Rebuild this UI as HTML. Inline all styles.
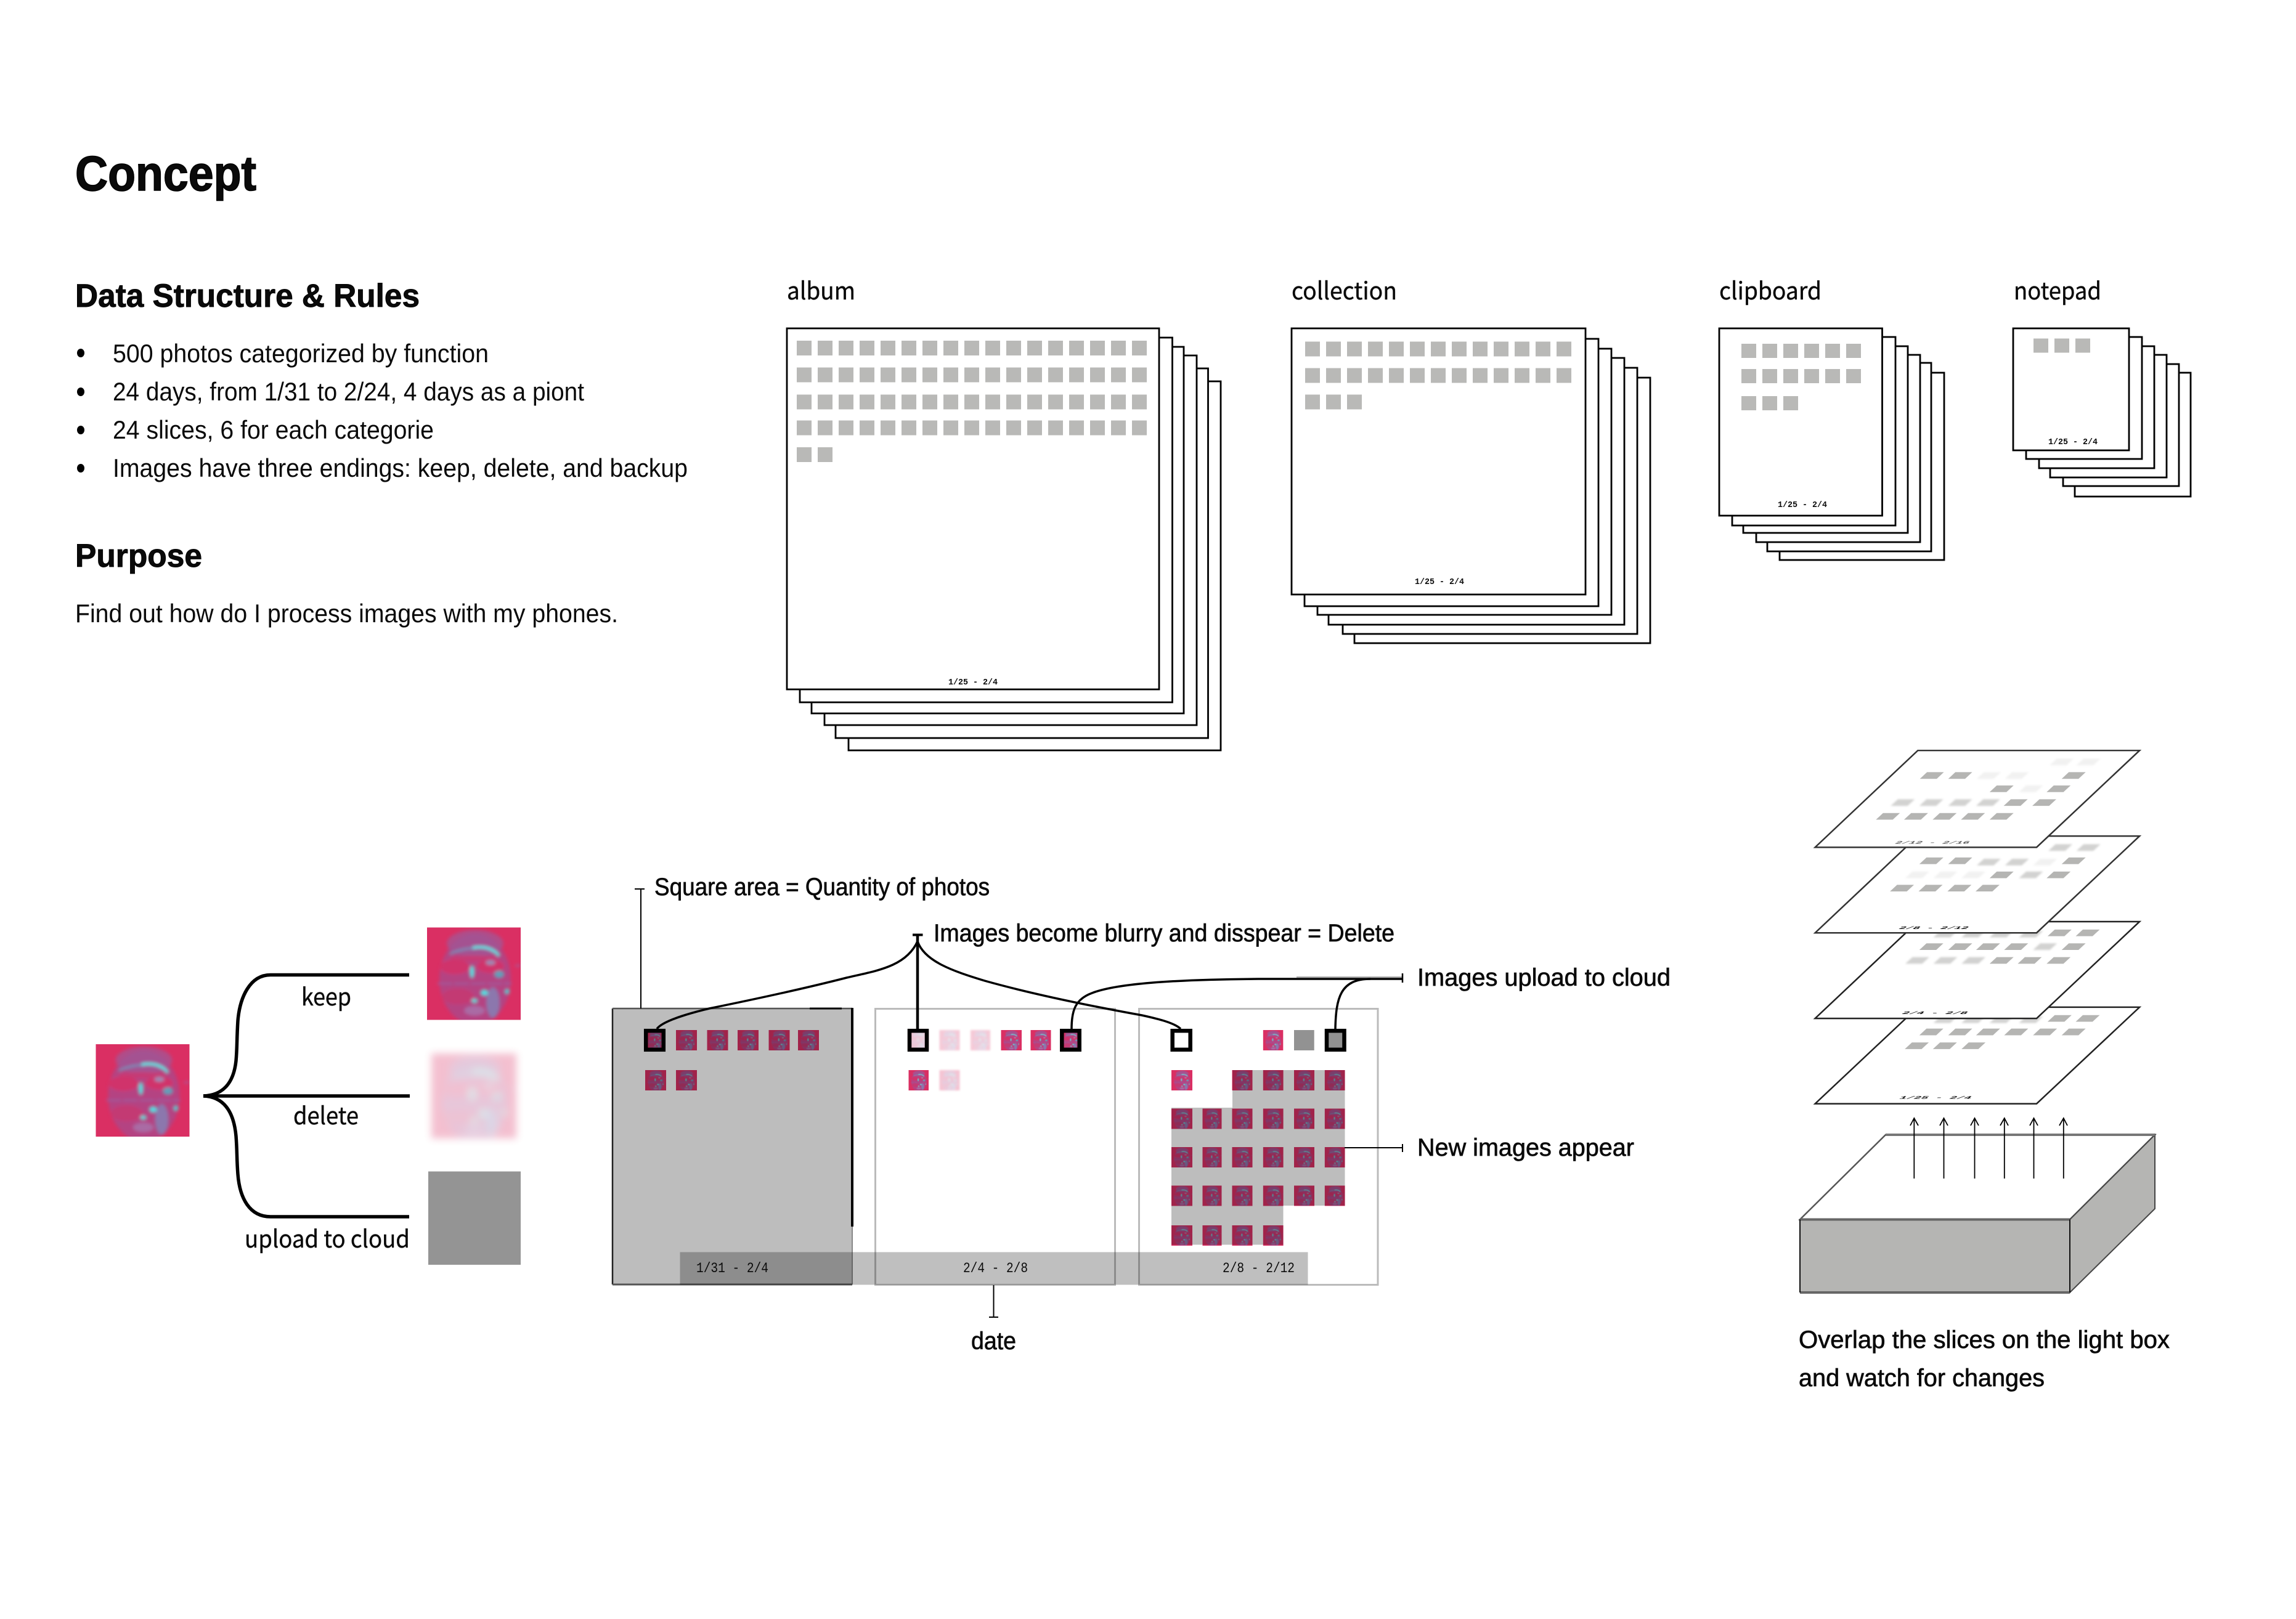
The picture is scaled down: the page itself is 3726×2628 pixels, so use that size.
<!DOCTYPE html>
<html><head><meta charset="utf-8"><title>Concept</title>
<style>
html,body{margin:0;padding:0;background:#fff}
svg{display:block}
text{fill:#0a0a0a}
.d{font-family:"Liberation Sans",sans-serif;font-size:42px}
.h{font-family:"Liberation Sans",sans-serif;font-weight:700;stroke:#000}
.m{font-family:"Liberation Sans",sans-serif;font-size:40px;stroke:#0a0a0a;stroke-width:.7px}
.k{font-family:"Noto Sans CJK SC","Liberation Sans",sans-serif;font-size:39px;stroke:#0a0a0a;stroke-width:.4px}
.t{font-family:"Liberation Mono",monospace;font-size:14px;font-weight:700}
.o{font-family:"Liberation Mono",monospace;font-size:23px}
.pl{font-family:"Liberation Mono",monospace;font-size:38px;font-weight:700}
.sh{fill:#fff;stroke:#000;stroke-width:2.8}
.bk{stroke:#000;fill:none}
.dm{mix-blend-mode:multiply}
</style></head>
<body>
<svg xmlns="http://www.w3.org/2000/svg" width="3726" height="2628" viewBox="0 0 3726 2628">
<defs>
<filter id="fb" x="-10%" y="-10%" width="120%" height="120%"><feGaussianBlur stdDeviation="2.6"/></filter>
<filter id="fd" x="-15%" y="-15%" width="130%" height="130%"><feGaussianBlur stdDeviation="6"/></filter>
<filter id="fs" x="-30%" y="-30%" width="160%" height="160%"><feGaussianBlur stdDeviation="1.5"/></filter>
<filter id="fq" x="-30%" y="-50%" width="160%" height="200%"><feGaussianBlur stdDeviation="4"/></filter>
<symbol id="f" viewBox="0 0 152 150" preserveAspectRatio="none">
<rect width="152" height="150" fill="#da2f63"/>
<svg x="0" y="0" width="152" height="150" viewBox="0 0 152 150" overflow="hidden">
<g filter="url(#fb)">
<ellipse cx="78" cy="84" rx="58" ry="74" fill="#96549a" opacity=".55"/>
<ellipse cx="78" cy="26" rx="46" ry="22" fill="#9e5a98" opacity=".7"/>
<ellipse cx="45" cy="64" rx="24" ry="12" fill="#d43068" opacity=".9"/>
<ellipse cx="103" cy="63" rx="22" ry="11" fill="#d43068" opacity=".9"/>
<ellipse cx="75" cy="50" rx="38" ry="5" fill="#cc3870" opacity=".8"/>
<ellipse cx="50" cy="112" rx="26" ry="13" fill="#c8386f" opacity=".8"/>
<path d="M37 43Q60 33 78 34" stroke="#6a96c0" stroke-width="3" fill="none"/>
<path d="M74 33Q102 28 117 46" stroke="#55e6e6" stroke-width="4.500" fill="none"/>
<ellipse cx="73" cy="72" rx="3.500" ry="10" fill="#55dfe0"/>
<path d="M17 91H137" stroke="#9a62a6" stroke-width="2.200" stroke-dasharray="24 3"/>
<ellipse cx="107" cy="122" rx="11" ry="25" fill="#8580b5" opacity=".85"/>
<ellipse cx="93" cy="106" rx="6" ry="5" fill="#52dbe0"/>
<ellipse cx="130" cy="104" rx="4" ry="4" fill="#52c9cf"/>
<ellipse cx="77" cy="119" rx="5" ry="3.500" fill="#60d8d8"/>
<ellipse cx="77" cy="135" rx="17" ry="8" fill="#a875ad" opacity=".8"/>
<ellipse cx="103" cy="57" rx="8" ry="4" fill="#8da0c8" opacity=".8"/>
<ellipse cx="117" cy="76" rx="8" ry="6" fill="#5aa8c0" opacity=".9"/>
<path d="M143 62H152" stroke="#9a66a8" stroke-width="2"/>
</g>
</svg>
</symbol>
<path id="q" d="M-47 13H19L47-13H-19Z" fill="#b5b5b3"/>
<g id="qp"><use href="#q" opacity=".6" filter="url(#fq)"/></g>
<g id="qv"><use href="#q" opacity=".18" filter="url(#fq)"/></g>
</defs>
<rect width="3726" height="2628" fill="#fff"/>

<!-- Left text -->
<text class="h" x="122" y="309" font-size="80" stroke-width="1.6" textLength="294" lengthAdjust="spacingAndGlyphs">Concept</text>
<text class="h" x="122" y="498" font-size="53" stroke-width=".9" textLength="559" lengthAdjust="spacingAndGlyphs">Data Structure &amp; Rules</text>
<ellipse cx="131" cy="573" rx="6" ry="7" fill="#000"/>
<ellipse cx="131" cy="636" rx="6" ry="7" fill="#000"/>
<ellipse cx="131" cy="698" rx="6" ry="7" fill="#000"/>
<ellipse cx="131" cy="760" rx="6" ry="7" fill="#000"/>
<text class="d" x="183" y="588" textLength="610" lengthAdjust="spacingAndGlyphs">500 photos categorized by function</text>
<text class="d" x="183" y="650" textLength="765" lengthAdjust="spacingAndGlyphs">24 days, from 1/31 to 2/24, 4 days as a piont</text>
<text class="d" x="183" y="712" textLength="521" lengthAdjust="spacingAndGlyphs">24 slices, 6 for each categorie</text>
<text class="d" x="183" y="774" textLength="933" lengthAdjust="spacingAndGlyphs">Images have three endings: keep, delete, and backup</text>
<text class="h" x="122" y="920" font-size="53" stroke-width=".9" textLength="206" lengthAdjust="spacingAndGlyphs">Purpose</text>
<text class="d" x="122" y="1010" textLength="881" lengthAdjust="spacingAndGlyphs">Find out how do I process images with my phones.</text>

<!-- Stack labels -->
<text class="k" x="1277" y="486" textLength="111" lengthAdjust="spacingAndGlyphs">album</text>
<text class="k" x="2096" y="486" textLength="171" lengthAdjust="spacingAndGlyphs">collection</text>
<text class="k" x="2790" y="486" textLength="166" lengthAdjust="spacingAndGlyphs">clipboard</text>
<text class="k" x="3268" y="486" textLength="142" lengthAdjust="spacingAndGlyphs">notepad</text>

<!-- Album stack -->
<rect class="sh" x="1377" y="619" width="604" height="599"/>
<rect class="sh" x="1356" y="598" width="604.5" height="600"/>
<rect class="sh" x="1338" y="577" width="604" height="600"/>
<rect class="sh" x="1317" y="563" width="604" height="595"/>
<rect class="sh" x="1298" y="548" width="604.5" height="592"/>
<rect class="sh" x="1277" y="533" width="604" height="586"/>
<g stroke="#b9b9b7" stroke-width="24" stroke-dasharray="24 10" fill="none">
<path d="M1293 565H1862"/><path d="M1293 608.5H1862"/><path d="M1293 652.5H1862"/><path d="M1293 694.5H1862"/><path d="M1293 738H1352"/>
</g>
<text class="t" x="1539" y="1111" textLength="80" lengthAdjust="spacingAndGlyphs">1/25 - 2/4</text>

<!-- Collection stack -->
<rect class="sh" x="2198" y="613" width="480" height="431"/>
<rect class="sh" x="2179" y="597" width="478" height="432"/>
<rect class="sh" x="2156" y="581" width="480" height="433"/>
<rect class="sh" x="2138" y="566" width="477" height="432"/>
<rect class="sh" x="2117" y="550" width="477" height="434"/>
<rect class="sh" x="2096" y="533" width="477" height="432"/>
<g stroke="#b9b9b7" stroke-width="24" stroke-dasharray="24 10" fill="none">
<path d="M2118 566.5H2550"/><path d="M2118 609.5H2550"/><path d="M2118 652.5H2210"/>
</g>
<text class="t" x="2296" y="948" textLength="80" lengthAdjust="spacingAndGlyphs">1/25 - 2/4</text>

<!-- Clipboard stack -->
<rect class="sh" x="2888" y="605" width="267" height="304"/>
<rect class="sh" x="2868" y="589" width="266" height="306"/>
<rect class="sh" x="2850" y="576" width="266" height="304"/>
<rect class="sh" x="2829" y="562" width="267" height="303"/>
<rect class="sh" x="2811" y="547" width="265" height="306"/>
<rect class="sh" x="2790" y="533" width="264.5" height="304"/>
<g stroke="#b9b9b7" stroke-width="23" stroke-dasharray="24 10" fill="none">
<path d="M2826 569.5H3020"/><path d="M2826 610.5H3020"/><path d="M2826 654.5H2918"/>
</g>
<text class="t" x="2885" y="823" textLength="80" lengthAdjust="spacingAndGlyphs">1/25 - 2/4</text>

<!-- Notepad stack -->
<rect class="sh" x="3367" y="605" width="188" height="201"/>
<rect class="sh" x="3348" y="591" width="188" height="198"/>
<rect class="sh" x="3327" y="576" width="189" height="199"/>
<rect class="sh" x="3309" y="562" width="187" height="198"/>
<rect class="sh" x="3288" y="547" width="188" height="198"/>
<rect class="sh" x="3267" y="533" width="188" height="198"/>
<path d="M3300 561H3392" stroke="#b9b9b7" stroke-width="23" stroke-dasharray="24 10" fill="none"/>
<text class="t" x="3324" y="721" textLength="80" lengthAdjust="spacingAndGlyphs">1/25 - 2/4</text>

<!-- Brace diagram -->
<use href="#f" x="155.5" y="1695" width="152" height="150"/>
<use href="#f" x="693" y="1505.5" width="152" height="150"/>
<g opacity=".3" filter="url(#fd)"><use href="#f" x="700" y="1710" width="138" height="138"/></g>
<rect x="695" y="1901.5" width="150" height="151.5" fill="#949494"/>
<g class="bk" stroke-width="5.5" stroke-linecap="butt">
<path d="M330 1779H665"/>
<path d="M664 1582.5H439C405 1582.5 389 1620 386 1657C384 1690 385 1700 383 1722C379 1760 360 1778 330 1779C360 1780 379 1800 383 1844C385 1870 384 1880 386 1906C389 1945 405 1975 439 1975H664"/>
</g>
<text class="k" x="489" y="1632" textLength="81" lengthAdjust="spacingAndGlyphs">keep</text>
<text class="k" x="476" y="1825" textLength="106" lengthAdjust="spacingAndGlyphs">delete</text>
<text class="k" x="397" y="2025" textLength="268" lengthAdjust="spacingAndGlyphs">upload to cloud</text>

<!-- Panels -->
<rect x="994" y="1637" width="389" height="449" fill="#bdbdbd"/>
<rect x="1420.5" y="1637.5" width="389" height="448" fill="#fff" stroke="#bbb" stroke-width="3"/>
<rect x="1848.5" y="1637.5" width="387.5" height="448" fill="#fff" stroke="#bbb" stroke-width="3"/>
<path d="M2000 1737H2182.5V1957H2082.500V2020.5H1901V1798H2000Z" fill="#bdbdbd"/>
<path d="M994 1637V2085" stroke="#222" stroke-width="2.5"/>
<path d="M994 1637H1383" stroke="#555" stroke-width="2.5"/>
<path d="M1314 1637H1366" stroke="#000" stroke-width="3"/>
<path d="M1383 1636V1991" stroke="#000" stroke-width="4"/>
<path d="M1383 1991V2085" stroke="#888" stroke-width="2"/>
<path d="M994 2085H1383" stroke="#555" stroke-width="3"/>
<rect x="1103.5" y="2032.5" width="1019" height="53" fill="#000" fill-opacity=".25"/>
<text class="o" x="1130" y="2065" textLength="117" lengthAdjust="spacingAndGlyphs">1/31 - 2/4</text>
<text class="o" x="1563" y="2065" textLength="105" lengthAdjust="spacingAndGlyphs">2/4 - 2/8</text>
<text class="o" x="1984" y="2065" textLength="117" lengthAdjust="spacingAndGlyphs">2/8 - 2/12</text>

<!-- Panel 1 thumbs -->
<g class="dm">
<use href="#f" x="1097" y="1672" width="34" height="33"/>
<use href="#f" x="1147.5" y="1672" width="34" height="33"/>
<use href="#f" x="1197" y="1672" width="34" height="33"/>
<use href="#f" x="1247.5" y="1672" width="34" height="33"/>
<use href="#f" x="1295" y="1672" width="34" height="33"/>
<use href="#f" x="1047" y="1737" width="34" height="33"/>
<use href="#f" x="1097" y="1737" width="34" height="33"/>
<use href="#f" x="1048" y="1673" width="30" height="31"/>
</g>
<rect x="1048.2" y="1673.2" width="28.6" height="30.6" fill="none" stroke="#000" stroke-width="6.5"/>

<!-- Panel 2 thumbs -->
<g opacity=".28" filter="url(#fs)"><use href="#f" x="1474.5" y="1672" width="32" height="33"/></g>
<g opacity=".25" filter="url(#fs)"><use href="#f" x="1524.5" y="1672" width="33" height="33"/></g>
<g opacity=".25" filter="url(#fs)"><use href="#f" x="1575" y="1672" width="32" height="33"/></g>
<use href="#f" x="1624.5" y="1672" width="33.5" height="33"/>
<use href="#f" x="1672.5" y="1672" width="33" height="33"/>
<use href="#f" x="1722" y="1672" width="32" height="33"/>
<use href="#f" x="1474.5" y="1737" width="32.5" height="33"/>
<g opacity=".28" filter="url(#fs)"><use href="#f" x="1524.5" y="1737" width="33" height="33"/></g>
<rect x="1476" y="1673.2" width="28" height="30.6" fill="none" stroke="#000" stroke-width="6.5"/>
<rect x="1723.3" y="1673.2" width="28.4" height="30.6" fill="none" stroke="#000" stroke-width="6.5"/>

<!-- Panel 3 thumbs -->
<rect x="1902.7" y="1673.2" width="29" height="30.6" fill="#fff" stroke="#000" stroke-width="6.5"/>
<use href="#f" x="2049.7" y="1672" width="32.7" height="33"/>
<rect x="2100" y="1672" width="32.7" height="33" fill="#929292"/>
<rect x="2153" y="1673.2" width="28.5" height="30.6" fill="#929292" stroke="#000" stroke-width="6.5"/>
<use href="#f" x="1901" y="1737" width="34" height="33"/>
<g class="dm">
<use href="#f" x="1999.5" y="1737" width="33" height="33"/><use href="#f" x="2049.7" y="1737" width="33" height="33"/><use href="#f" x="2100" y="1737" width="33" height="33"/><use href="#f" x="2149.7" y="1737" width="33" height="33"/>
<use href="#f" x="1901" y="1799.5" width="34" height="33"/><use href="#f" x="1951.5" y="1799.5" width="31" height="33"/><use href="#f" x="1999.5" y="1799.5" width="33" height="33"/><use href="#f" x="2049.7" y="1799.5" width="33" height="33"/><use href="#f" x="2100" y="1799.5" width="33" height="33"/><use href="#f" x="2149.7" y="1799.5" width="33" height="33"/>
<use href="#f" x="1901" y="1862" width="34" height="33"/><use href="#f" x="1951.5" y="1862" width="31" height="33"/><use href="#f" x="1999.5" y="1862" width="33" height="33"/><use href="#f" x="2049.7" y="1862" width="33" height="33"/><use href="#f" x="2100" y="1862" width="33" height="33"/><use href="#f" x="2149.7" y="1862" width="33" height="33"/>
<use href="#f" x="1901" y="1924.5" width="34" height="33"/><use href="#f" x="1951.5" y="1924.5" width="31" height="33"/><use href="#f" x="1999.5" y="1924.5" width="33" height="33"/><use href="#f" x="2049.7" y="1924.5" width="33" height="33"/><use href="#f" x="2100" y="1924.5" width="33" height="33"/><use href="#f" x="2149.7" y="1924.5" width="33" height="33"/>
<use href="#f" x="1901" y="1989" width="34" height="33"/><use href="#f" x="1951.5" y="1989" width="31" height="33"/><use href="#f" x="1999.5" y="1989" width="33" height="33"/><use href="#f" x="2049.7" y="1989" width="33" height="33"/>
</g>

<!-- Connectors -->
<g class="bk">
<path d="M1030 1443H1046M1040 1443V1637" stroke-width="2"/>
<path d="M1481 1517.5H1497.5" stroke-width="4"/>
<path d="M1489 1517V1670" stroke-width="4.5"/>
<path d="M1489 1528C1470 1570 1420 1576 1374 1587C1300 1606 1210 1625 1151 1637C1110 1647 1075 1658 1066 1670" stroke-width="3.5"/>
<path d="M1489 1528C1500 1560 1545 1576 1598 1592C1680 1615 1770 1633 1853 1648C1880 1654 1905 1660 1916 1670" stroke-width="3.5"/>
<path d="M1739 1670C1739 1640 1745 1622 1772 1612C1810 1597 1900 1590 2042 1589H2276" stroke-width="3.5"/>
<path d="M2167 1670C2168 1620 2175 1589 2224 1589" stroke-width="3.5"/>
<path d="M2104 1586H2276" stroke="#aaa" stroke-width="2"/>
<path d="M2276 1580V1595" stroke-width="2.5"/>
<path d="M2182 1863H2276M2276 1857V1870" stroke-width="2"/>
<path d="M1612.5 2086V2138M1605 2138H1620" stroke-width="2"/>
</g>
<text class="m" x="1062" y="1453" textLength="544" lengthAdjust="spacingAndGlyphs">Square area = Quantity of photos</text>
<text class="m" x="1515" y="1528" textLength="748" lengthAdjust="spacingAndGlyphs">Images become blurry and disspear = Delete</text>
<text class="m" x="2300" y="1600" textLength="411" lengthAdjust="spacingAndGlyphs">Images upload to cloud</text>
<text class="m" x="2300" y="1876" textLength="352" lengthAdjust="spacingAndGlyphs">New images appear</text>
<text class="m" x="1576" y="2190" textLength="73" lengthAdjust="spacingAndGlyphs">date</text>

<!-- Slices -->
<g transform="translate(2900 1190) scale(.41459)">
<path d="M512 1073H1380L977 1451H110Z" stroke="#222" stroke-width="6" fill="#fff"/>
<use href="#qp" x="620" y="1122"/><use href="#qp" x="730" y="1122"/><use href="#qp" x="840" y="1122"/><use href="#qp" x="955" y="1122"/>
<use href="#q" x="1067" y="1117"/><use href="#q" x="1177" y="1117"/>
<use href="#q" x="565" y="1170"/><use href="#q" x="678" y="1170"/><use href="#q" x="787" y="1170"/><use href="#q" x="897" y="1170"/><use href="#q" x="1010" y="1170"/><use href="#q" x="1122" y="1170"/>
<use href="#q" x="508" y="1224"/><use href="#q" x="618" y="1224"/><use href="#q" x="730" y="1224"/>
<text class="pl" transform="translate(437 1432) skewX(-47) scale(1 .4)" textLength="280" lengthAdjust="spacingAndGlyphs">1/25 - 2/4</text>

<path d="M512 738H1380L977 1117H110Z" stroke="#222" stroke-width="6" fill="#fff"/>
<use href="#qp" x="620" y="787"/><use href="#qp" x="730" y="787"/><use href="#qp" x="840" y="787"/><use href="#qp" x="955" y="787"/>
<use href="#q" x="1067" y="782"/><use href="#q" x="1177" y="782"/>
<use href="#q" x="565" y="836"/><use href="#q" x="678" y="836"/><use href="#q" x="787" y="836"/><use href="#q" x="897" y="836"/><use href="#qp" x="1010" y="836"/><use href="#q" x="1122" y="836"/>
<use href="#qp" x="510" y="890"/><use href="#qp" x="620" y="890"/><use href="#qp" x="730" y="890"/>
<use href="#q" x="840" y="890"/><use href="#q" x="950" y="890"/><use href="#q" x="1063" y="890"/>
<text class="pl" transform="translate(447 1100) skewX(-47) scale(1 .4)" textLength="255" lengthAdjust="spacingAndGlyphs">2/4 - 2/8</text>

<path d="M512 403H1380L977 782H110Z" stroke="#333" stroke-width="6" fill="#fff"/>
<use href="#qp" x="1070" y="448"/><use href="#qp" x="1180" y="448"/>
<use href="#q" x="565" y="500"/><use href="#q" x="678" y="500"/><use href="#qp" x="790" y="505"/><use href="#qp" x="900" y="505"/><use href="#qv" x="1010" y="505"/><use href="#q" x="1122" y="500"/>
<use href="#qv" x="510" y="555"/><use href="#qv" x="620" y="555"/><use href="#qv" x="730" y="555"/>
<use href="#q" x="840" y="555"/><use href="#qp" x="955" y="555"/><use href="#q" x="1063" y="555"/>
<use href="#q" x="450" y="607"/><use href="#q" x="562" y="607"/><use href="#q" x="675" y="607"/><use href="#q" x="785" y="607"/>
<text class="pl" transform="translate(435 767) skewX(-47) scale(1 .4)" textLength="270" lengthAdjust="spacingAndGlyphs">2/8 - 2/12</text>

<path d="M512 68H1380L977 447H110Z" stroke="#333" stroke-width="6" fill="#fff"/>
<use href="#qv" x="1075" y="113"/><use href="#qv" x="1180" y="113"/>
<use href="#q" x="567" y="166"/><use href="#q" x="678" y="166"/><use href="#qv" x="790" y="166"/><use href="#qv" x="900" y="166"/><use href="#q" x="1122" y="166"/>
<use href="#q" x="840" y="218"/><use href="#qv" x="955" y="218"/><use href="#q" x="1063" y="218"/>
<use href="#qp" x="453" y="272"/><use href="#qp" x="565" y="272"/><use href="#qp" x="678" y="272"/><use href="#qp" x="787" y="272"/><use href="#q" x="895" y="272"/><use href="#q" x="1007" y="272"/>
<use href="#q" x="395" y="326"/><use href="#q" x="505" y="326"/><use href="#q" x="617" y="326"/><use href="#q" x="728" y="326"/><use href="#q" x="840" y="326"/>
<text class="pl" transform="translate(420 433) skewX(-47) scale(1 .4)" textLength="290" lengthAdjust="spacingAndGlyphs" fill-opacity=".7">2/12 - 2/16</text>
</g>

<!-- Light box -->
<path d="M3060 1842H3497L3359 1979.5H2921Z" fill="#fff" stroke="#555" stroke-width="2.5"/>
<rect x="2921" y="1979.5" width="438" height="118.5" fill="#b5b5b3"/>
<path d="M3359 1979.5L3497 1842V1962L3359 2098Z" fill="#b5b5b3" stroke="#444" stroke-width="2"/>
<path d="M2921 1979.5H3359" stroke="#666" stroke-width="4"/>
<path d="M2921 2098H3359" stroke="#666" stroke-width="4"/>
<path d="M2921 1979.5V2098M3359 1979.5V2098" stroke="#111" stroke-width="2"/>
<path d="M3060 1842H3497" stroke="#777" stroke-width="4"/>
<g stroke="#000" stroke-width="1.8" fill="none">
<path d="M3106.3 1913V1815M3100 1827L3106.3 1815L3113 1827"/>
<path d="M3154.5 1913V1815M3148 1827L3154.5 1815L3161 1827"/>
<path d="M3204.5 1913V1815M3198 1827L3204.5 1815L3211 1827"/>
<path d="M3252.8 1913V1815M3246 1827L3252.8 1815L3259 1827"/>
<path d="M3300.5 1913V1815M3294 1827L3300.5 1815L3307 1827"/>
<path d="M3348.8 1913V1815M3342 1827L3348.8 1815L3355 1827"/>
</g>
<text class="m" x="2919" y="2188" textLength="602" lengthAdjust="spacingAndGlyphs">Overlap the slices on the light box</text>
<text class="m" x="2919" y="2250" textLength="399" lengthAdjust="spacingAndGlyphs">and watch for changes</text>
</svg>
</body></html>
